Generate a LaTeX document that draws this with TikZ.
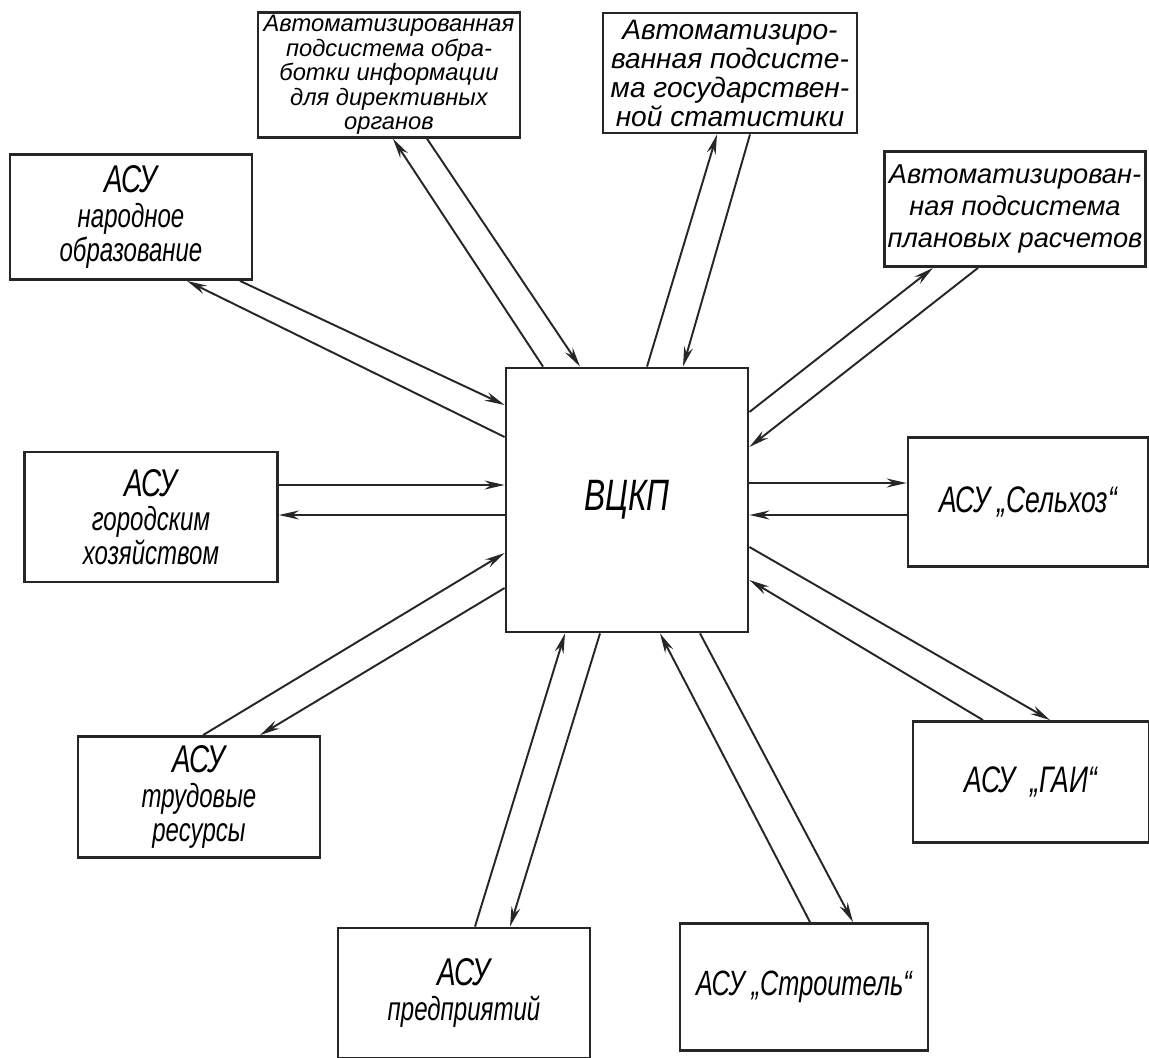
\documentclass[tikz,border=0pt]{standalone}
\usepackage{fontspec}
\setmainfont{Liberation Sans}
\newfontfamily\asufont[FakeStretch=0.72]{Liberation Sans}
\usetikzlibrary{arrows.meta, positioning, calc}
\tikzset{
    asubox/.style={rectangle, draw=black!85, line width=1.6pt, align=center, inner sep=1mm, font=\asufont\itshape},
    podbox/.style={rectangle, draw=black!85, line width=1.6pt, align=center, inner sep=0.5mm},
    arrow/.style={-{Stealth[length=4mm, width=1.8mm]}, line width=1.1pt, black!85},
}

\begin{document}
\begin{tikzpicture}[
  x=0.2mm, y=-0.2mm,
  hubbox/.style={asubox, minimum width=48.4mm, minimum height=52.8mm},
  sidebox/.style={asubox, minimum width=49mm, minimum height=25.4mm},
  asutext/.style={font=\asufont\itshape\fontsize{19}{19.5}\selectfont},
  onetext/.style={font=\asufont\itshape\fontsize{21}{21}\selectfont}
]
\useasboundingbox (0,0) rectangle (1149,1058);

% Computing centre
\node[hubbox, font=\asufont\itshape\fontsize{25}{25}\selectfont] (vckp) at (627,500) {ВЦКП};

% Subsystems on top
\node[podbox, minimum width=52.4mm, minimum height=24.6mm, font=\itshape\fontsize{13.5}{14}\selectfont] (obrab) at (389,75)
  {Автоматизированная\\подсистема обра-\\ботки информации\\для директивных\\органов};
\node[podbox, minimum width=50.8mm, minimum height=24mm, font=\itshape\fontsize{16}{16.5}\selectfont] (stat) at (730,73)
  {Автоматизиро-\\ванная подсисте-\\ма государствен-\\ной статистики};
\node[podbox, minimum width=52.2mm, minimum height=23mm, font=\itshape\fontsize{15.5}{18}\selectfont] (plan) at (1015,209)
  {Автоматизирован-\\ная подсистема\\плановых расчетов};

% ACS boxes round the centre
\node[sidebox, asutext, minimum width=48.4mm, minimum height=25mm] (narobr) at (131,217)
  {{\fontsize{22}{19.5}\selectfont АСУ}\\народное\\образование};
\node[sidebox, asutext, minimum width=50.6mm, minimum height=26mm] (gorhoz) at (151,517)
  {{\fontsize{22}{19.5}\selectfont АСУ}\\городским\\хозяйством};
\node[sidebox, onetext, minimum width=48mm, minimum height=25.8mm] (selhoz) at (1028,502)
  {АСУ „Сельхоз“};
\node[sidebox, asutext, minimum width=48.4mm, minimum height=24.2mm] (trud) at (199,797)
  {{\fontsize{22}{19.5}\selectfont АСУ}\\трудовые\\ресурсы};
\node[sidebox, onetext, minimum width=47.2mm, minimum height=24.2mm] (gai) at (1031,782)
  {АСУ \ „ГАИ“};
\node[sidebox, asutext, minimum width=50.4mm, minimum height=26mm] (predpr) at (464,993)
  {{\fontsize{22}{19.5}\selectfont АСУ}\\предприятий};
\node[sidebox, onetext, minimum width=49.6mm, minimum height=25.4mm, font=\asufont\itshape\fontsize{20}{20}\selectfont] (stroit) at (804,987)
  {АСУ „Строитель“};

% Exchange lines, one pair per subsystem
\draw[arrow] ([xshift=-16.8mm]vckp.north) -- ([xshift=0.8mm]obrab.south);
\draw[arrow] ([xshift=7.6mm]obrab.south) -- ([xshift=-9.4mm]vckp.north);
\draw[arrow] ([xshift=4mm]vckp.north) -- ([xshift=-2.6mm]stat.south);
\draw[arrow] ([xshift=4mm]stat.south) -- ([xshift=11.2mm]vckp.north);
\draw[arrow] ([yshift=17.6mm]vckp.east) -- ([xshift=-16.4mm]plan.south);
\draw[arrow] ([xshift=-7.4mm]plan.south) -- ([yshift=10.6mm]vckp.east);
\draw[arrow] ([yshift=12.6mm]vckp.west) -- ([xshift=11.2mm]narobr.south);
\draw[arrow] ([xshift=21.8mm]narobr.south) -- ([yshift=19mm]vckp.west);

\coordinate (g1) at ([yshift=3mm]vckp.west);
\coordinate (g2) at ([yshift=-3mm]vckp.west);
\draw[arrow] (g1 -| gorhoz.east) -- (g1);
\draw[arrow] (g2) -- (g2 -| gorhoz.east);
\coordinate (s1) at ([yshift=3.4mm]vckp.east);
\coordinate (s2) at ([yshift=-3mm]vckp.east);
\draw[arrow] (s1) -- (s1 -| selhoz.west);
\draw[arrow] (s2 -| selhoz.west) -- (s2);

\draw[arrow] ([xshift=0.8mm]trud.north) -- ([yshift=-10.6mm]vckp.west);
\draw[arrow] ([yshift=-17.6mm]vckp.west) -- ([xshift=12.2mm]trud.north);
\draw[arrow] ([yshift=-9.4mm]vckp.east) -- ([xshift=3.8mm]gai.north);
\draw[arrow] ([xshift=-9.6mm]gai.north) -- ([yshift=-16mm]vckp.east);
\draw[arrow] ([xshift=2.2mm]predpr.north) -- ([xshift=-12.4mm]vckp.south);
\draw[arrow] ([xshift=-5.4mm]vckp.south) -- ([xshift=9.2mm]predpr.north);
\draw[arrow] ([xshift=1.2mm]stroit.north) -- ([xshift=6.6mm]vckp.south);
\draw[arrow] ([xshift=14.6mm]vckp.south) -- ([xshift=9.8mm]stroit.north);
\end{tikzpicture}
\end{document}
